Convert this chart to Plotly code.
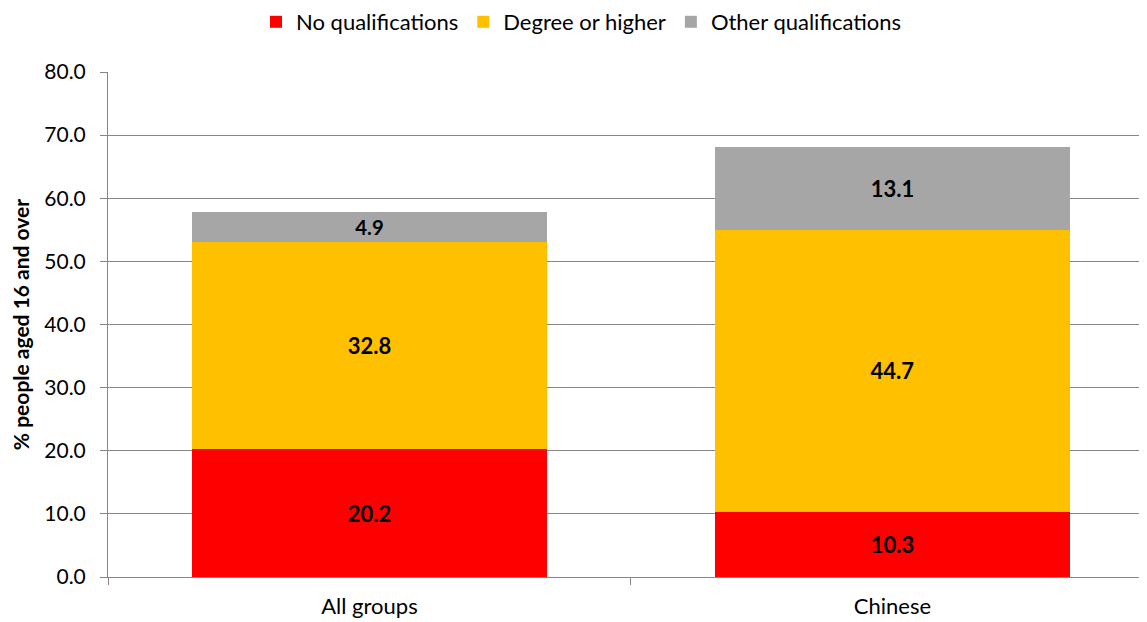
import plotly.graph_objects as go

categories = ["All groups", "Chinese"]
no_qual = [20.2, 10.3]
degree = [32.8, 44.7]
other = [4.9, 13.1]
series_names = ["No qualifications", "Degree or higher", "Other qualifications"]
colors = ["#FF0000", "#FFC000", "#A6A6A6"]

FONT = "Lato, 'Open Sans', sans-serif"
fig = go.Figure()
for name, vals, col in zip(series_names, [no_qual, degree, other], colors):
    fig.add_trace(go.Bar(
        x=categories, y=vals, name=name, marker=dict(color=col, line=dict(width=0)),
        width=0.68, text=[f"{v:.1f}" for v in vals], textposition="inside",
        insidetextanchor="middle", textangle=0,
        textfont=dict(family=FONT, size=22, color="black", weight="bold"),
    ))

fig.update_layout(
    barmode="stack",
    width=1147, height=622,
    margin=dict(l=100, r=0, t=64, b=53),
    plot_bgcolor="white", paper_bgcolor="white",
    font=dict(family=FONT, size=22, color="black"),
    legend=dict(orientation="h", xref="container", x=0.5, xanchor="center",
                yref="container", y=0.9775, yanchor="middle",
                font=dict(size=22), itemwidth=30, traceorder="normal"),
    showlegend=True,
)
fig.update_xaxes(
    type="category", range=[-0.5, 1.502], tickson="boundaries",
    ticks="outside", ticklen=7, tickcolor="#868686",
    showline=True, linecolor="#868686", linewidth=1, showgrid=False,
    tickfont=dict(size=22), ticklabelstandoff=10,
)
fig.update_yaxes(
    range=[0, 80], dtick=10, tickformat=".1f",
    ticks="outside", ticklen=7, tickcolor="#868686",
    showline=True, linecolor="#868686", linewidth=1,
    showgrid=True, gridcolor="#868686", gridwidth=1,
    zeroline=False, ticklabelstandoff=10,
    title=dict(text="% people aged 16 and over", font=dict(size=21, weight="bold"), standoff=10),
    tickfont=dict(size=21),
)
fig.write_html("out.html")
